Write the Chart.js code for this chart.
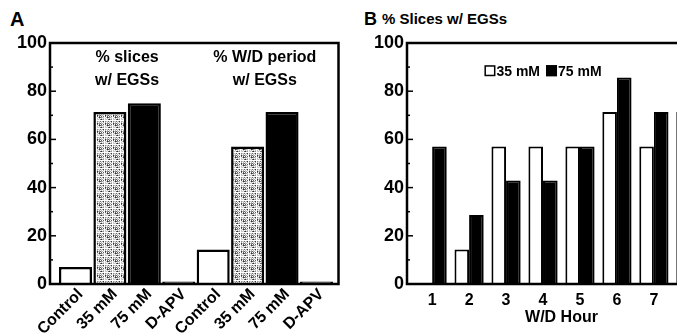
<!DOCTYPE html>
<html>
<head>
<meta charset="utf-8">
<script src="https://cdn.jsdelivr.net/npm/chart.js@4.4.1/dist/chart.umd.min.js"></script>
<style>
  html, body { margin: 0; padding: 0; background: #fff; overflow: hidden; width: 677px; height: 334px; }
  .panel { position: absolute; top: 0; }
  .label { position: absolute; font-family: 'Liberation Sans', Arial, sans-serif; font-weight: bold; color: #000; line-height: 1; white-space: nowrap; }
</style>
</head>
<body>
<div class="label" style="left:10px; top:9px; font-size:20px;">A</div>
<div class="label" style="left:364px; top:10px; font-size:18px;">B</div>
<div class="label" style="left:382px; top:11px; font-size:15px;">% Slices w/ EGSs</div>

<div class="panel" style="left:0;"><canvas id="chartA" width="342" height="334"></canvas></div>
<div class="panel" style="left:340px;"><canvas id="chartB" width="380" height="334"></canvas></div>

<script>
/* ─────────────────────────────────────────────
   Data
───────────────────────────────────────────── */
const panelACategories = ['Control', '35 mM', '75 mM', 'D-APV', 'Control', '35 mM', '75 mM', 'D-APV'];
const panelAValues = [7.1, 71.4, 75, 1, 14.3, 57.1, 71.4, 1];
const panelAGroups = [['% slices', 'w/ EGSs'], ['% W/D period', 'w/ EGSs']];

const hours = ['1', '2', '3', '4', '5', '6', '7', '8'];
const slices35 = [0, 14.3, 57.1, 57.1, 57.1, 71.4, 57.1, 71.4];
const slices75 = [57.1, 28.6, 42.9, 42.9, 57.1, 85.7, 71.4, null];

/* ─────────────────────────────────────────────
   Shared style
───────────────────────────────────────────── */
Chart.defaults.font.family = "'Liberation Sans', Arial, sans-serif";
Chart.defaults.font.weight = 'bold';
Chart.defaults.color = '#000';

// stippled grey used for the 35 mM bars in panel A (fixed hash, no randomness)
function stipple() {
  const n = 16;
  const c = document.createElement('canvas');
  c.width = n; c.height = n;
  const g = c.getContext('2d');
  const shades = ['#ffffff', '#d0d0d0', '#b0b0b0', '#909090', '#606060', '#303030', '#c0c0c0', '#e8e8e8'];
  for (let j = 0; j < n; j++) {
    for (let i = 0; i < n; i++) {
      const h = ((i * 73) ^ (j * 151) ^ (i * j * 29) ^ (i + j * 7)) & 7;
      g.fillStyle = shades[h];
      g.fillRect(i, j, 1, 1);
    }
  }
  return g.createPattern(c, 'repeat');
}

const conditionFill = { 'Control': '#fff', '35 mM': stipple(), '75 mM': '#000', 'D-APV': '#fff' };

// box round the plot plus the little inward ticks on the y axis
const framePlugin = {
  id: 'frame',
  afterDatasetsDraw(chart) {
    const { ctx, chartArea: a, scales: { y } } = chart;
    ctx.save();
    ctx.strokeStyle = '#000';
    ctx.lineWidth = 1.5;
    for (let v = 0; v <= 100; v += 10) {
      const py = y.getPixelForValue(v);
      ctx.beginPath();
      ctx.moveTo(a.left, py);
      ctx.lineTo(a.left + (v % 20 ? 3 : 6), py);
      ctx.stroke();
    }
    ctx.lineWidth = 2.5;
    ctx.strokeRect(a.left, a.top, a.right - a.left, a.bottom - a.top);
    ctx.restore();
  }
};

const noGrid = { display: false, drawTicks: false };

function yScale(width) {
  return {
    min: 0,
    max: 100,
    grid: noGrid,
    border: { display: false },
    ticks: { stepSize: 20, padding: 3, font: { size: 18 } },
    afterFit: (s) => { s.width = width; }
  };
}

/* ─────────────────────────────────────────────
   Panel A
───────────────────────────────────────────── */
const groupLabelPlugin = {
  id: 'groupLabels',
  afterDatasetsDraw(chart) {
    const { ctx, scales: { x, y } } = chart;
    ctx.save();
    ctx.fillStyle = '#000';
    ctx.font = "bold 16px 'Liberation Sans', Arial, sans-serif";
    ctx.textAlign = 'center';
    ctx.textBaseline = 'middle';
    panelAGroups.forEach((lines, g) => {
      const cx = x.getPixelForValue(g * 4 + 2.5);
      ctx.fillText(lines[0], cx, y.getPixelForValue(94));
      ctx.fillText(lines[1], cx, y.getPixelForValue(84.6));
    });
    ctx.restore();
  }
};

new Chart(document.getElementById('chartA'), {
  type: 'bar',
  data: {
    datasets: [{
      data: panelAValues.map((v, i) => ({ x: i + 1, y: v })),
      backgroundColor: panelACategories.map(c => conditionFill[c]),
      borderColor: '#000',
      borderWidth: 2.5,
      barPercentage: 0.96,
      categoryPercentage: 1
    }]
  },
  options: {
    responsive: false,
    animation: false,
    layout: { padding: { top: 43, left: 0, right: 3.5, bottom: 0 } },
    plugins: { legend: { display: false }, tooltip: { enabled: false } },
    scales: {
      x: {
        type: 'linear',
        offset: false,
        min: 0.26,
        max: 8.64,
        grid: noGrid,
        border: { display: false },
        ticks: {
          stepSize: 1,
          includeBounds: false,
          autoSkip: false,
          minRotation: 45,
          maxRotation: 45,
          padding: 1,
          labelOffset: 5,
          font: { size: 16 },
          callback: (v) => panelACategories[v - 1] ?? ''
        },
        afterFit: (s) => { s.height = 50; }
      },
      y: yScale(50)
    }
  },
  plugins: [framePlugin, groupLabelPlugin]
});

/* ─────────────────────────────────────────────
   Panel B
───────────────────────────────────────────── */
const legendPlugin = {
  id: 'innerLegend',
  afterDatasetsDraw(chart) {
    const { ctx, scales: { x, y } } = chart;
    const items = chart.data.datasets;
    const box = 11;
    ctx.save();
    ctx.font = "bold 14px 'Liberation Sans', Arial, sans-serif";
    ctx.textBaseline = 'middle';
    const widths = items.map(d => box + 1 + ctx.measureText(d.label).width);
    const total = widths.reduce((a, b) => a + b, 0) + 6 * (items.length - 1);
    let px = x.getPixelForValue(4) - total / 2;
    const py = y.getPixelForValue(88.5);
    items.forEach((d, i) => {
      ctx.fillStyle = d.backgroundColor;
      ctx.fillRect(px, py - box / 2, box, box);
      ctx.strokeStyle = '#000';
      ctx.lineWidth = 1.5;
      ctx.strokeRect(px + 0.75, py - box / 2 + 0.75, box - 1.5, box - 1.5);
      ctx.fillStyle = '#000';
      ctx.fillText(d.label, px + box + 1, py + 1);
      px += widths[i] + 6;
    });
    ctx.restore();
  }
};

new Chart(document.getElementById('chartB'), {
  type: 'bar',
  data: {
    datasets: [
      {
        label: '35 mM',
        data: slices35.map((v, i) => ({ x: i + 1, y: v })),
        backgroundColor: '#fff',
        borderColor: '#000',
        borderWidth: 2,
        barPercentage: 1,
        categoryPercentage: 0.79
      },
      {
        label: '75 mM',
        data: slices75.map((v, i) => ({ x: i + 1, y: v })),
        backgroundColor: '#000',
        borderColor: '#000',
        borderWidth: 2,
        barPercentage: 1,
        categoryPercentage: 0.79
      }
    ]
  },
  options: {
    responsive: false,
    animation: false,
    layout: { padding: { top: 43, left: 0, right: 4, bottom: 0 } },
    plugins: { legend: { display: false }, tooltip: { enabled: false } },
    scales: {
      x: {
        type: 'linear',
        offset: false,
        min: 0.32,
        max: 8.68,
        grid: noGrid,
        border: { display: false },
        ticks: {
          stepSize: 1,
          includeBounds: false,
          autoSkip: false,
          maxRotation: 0,
          padding: 7,
          font: { size: 16 },
          callback: (v) => hours[v - 1] ?? ''
        },
        title: {
          display: true,
          text: 'W/D Hour',
          font: { size: 16, weight: 'bold' },
          padding: { top: 0, bottom: 7 }
        },
        afterFit: (s) => { s.height = 50; }
      },
      y: yScale(67)
    }
  },
  plugins: [framePlugin, legendPlugin]
});
</script>
</body>
</html>
